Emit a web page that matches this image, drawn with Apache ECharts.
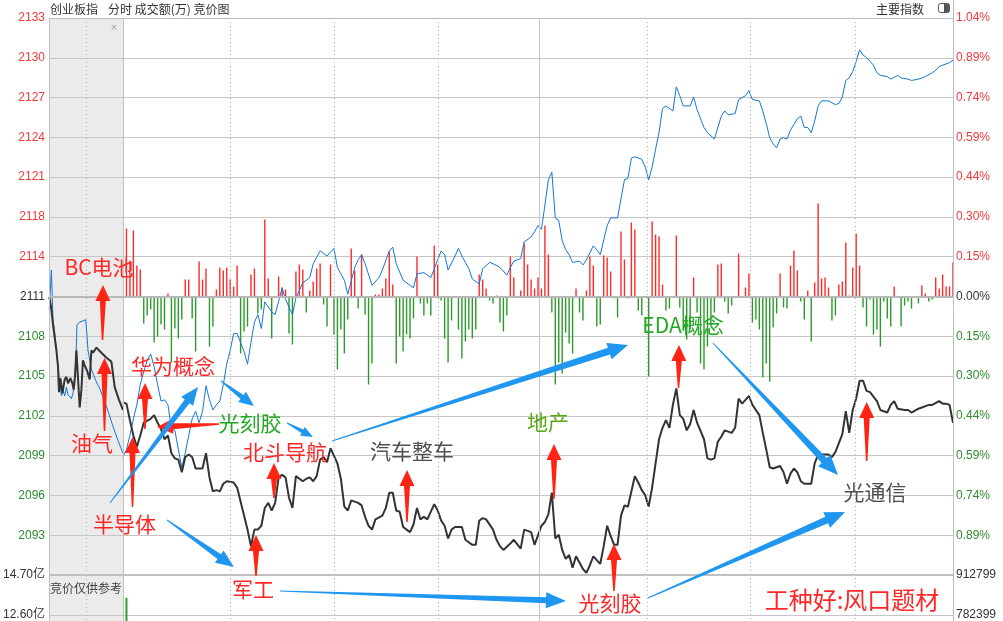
<!DOCTYPE html>
<html><head><meta charset="utf-8">
<script src="https://cdn.jsdelivr.net/npm/echarts/dist/echarts.min.js"></script>
<style>html,body{margin:0;padding:0;background:#fff}#c{width:1003px;height:621px}</style>
</head><body><div id="c"></div>
<script>
// ---------------- data ----------------
const preClose = 2111.32;        // 昨收
const step = 3.127;              // 价格刻度间隔 (≈0.148%)
// 竞价阶段 (9:15-9:25, 分钟)
const auctionBlue = [[0.03,2110.3],[0.32,2113.4],[0.54,2109.5],[0.77,2108.5],[1.22,2105.8],[1.45,2104.5],[1.68,2103.5],[1.89,2104.0],[2.12,2103.5],[2.35,2104.2],[2.57,2103.6],[3.03,2103.3],[3.24,2103.7],[3.61,2105.8],[3.78,2109.1],[4.15,2109.3],[4.59,2109.4],[4.96,2109.5],[5.14,2108.2],[5.27,2107.1],[5.73,2105.6],[6.41,2104.6],[6.85,2104.1],[7.76,2102.7],[8.65,2101.1],[9.32,2100.0],[10,2099.0]];
const auctionBlack = [[0.05,2111.3],[0.32,2110.3],[0.54,2109.1],[1.0,2107.1],[1.22,2105.8],[1.35,2103.8],[1.54,2104.9],[1.81,2103.7],[2.12,2104.8],[2.35,2105.0],[2.57,2104.5],[2.89,2104.9],[3.16,2104.5],[3.34,2104.0],[3.51,2105.0],[3.7,2107.1],[3.92,2107.1],[4.15,2102.6],[4.38,2104.0],[4.59,2106.3],[4.82,2105.9],[5.14,2105.5],[5.5,2104.8],[5.73,2107.1],[5.95,2106.9],[6.41,2107.3],[7.08,2106.9],[7.76,2106.5],[8.43,2106.2],[8.88,2104.2],[9.46,2103.2],[10,2102.4]];
// 连续交易 (分钟, 0 = 9:30, 240 = 15:00)
const blueLine = [[0,2098.7],[1,2099.3],[2,2100.4],[3,2101.7],[4,2102.8],[5,2104.4],[6,2105.4],[7,2106.3],[8,2106.8],[9,2105.8],[10,2104.4],[11,2103.1],[12,2103.2],[13,2102.8],[14,2100.9],[15,2100.8],[16,2099.3],[17,2097.9],[18,2099.0],[19,2100.4],[20,2101.7],[21,2102.3],[22,2101.4],[23,2102.3],[24,2104.3],[25,2103.2],[26,2102.4],[27,2102.8],[28,2103.1],[29,2104.4],[30,2106.0],[31,2107.1],[32,2108.4],[33,2108.4],[34,2107.7],[35,2107.0],[36,2106.0],[37,2107.7],[38,2109.3],[39,2109.9],[40,2108.8],[41,2110.9],[43,2110.1],[44,2109.9],[46,2112.0],[47,2111.1],[49,2109.9],[50,2111.2],[52,2112.4],[54,2112.8],[55,2113.9],[57,2114.9],[59,2114.5],[61,2115.1],[62,2113.6],[64,2112.6],[65,2111.5],[67,2113.6],[68,2114.2],[69,2114.6],[70,2113.9],[72,2112.2],[74,2112.8],[75,2113.4],[77,2114.9],[78,2115.2],[79,2113.9],[81,2112.6],[83,2112.2],[84,2112.0],[85,2113.1],[87,2113.2],[89,2112.8],[90,2113.5],[92,2114.9],[93,2114.6],[94,2113.4],[96,2114.5],[97,2115.1],[98,2114.5],[100,2113.5],[101,2112.7],[103,2112.3],[104,2113.5],[106,2114.0],[107,2113.9],[109,2113.6],[111,2113.0],[112,2113.6],[113,2114.1],[115,2114.3],[116,2115.6],[118,2116.0],[119,2116.4],[120,2116.9],[121,2116.6],[122,2118.5],[123,2120.5],[124,2121.1],[125,2117.5],[126,2117.3],[127,2115.7],[128,2115.0],[129,2114.6],[130,2114.0],[132,2114.1],[133,2113.8],[134,2114.2],[136,2115.3],[137,2115.0],[138,2114.6],[140,2116.9],[141,2117.5],[143,2117.5],[145,2120.5],[146,2120.6],[147,2122.2],[148,2122.3],[150,2122.1],[151,2121.5],[152,2120.5],[153,2121.5],[154,2122.9],[155,2124.2],[156,2126.1],[157,2126.3],[159,2125.9],[160,2127.8],[161,2127.1],[162,2126.3],[164,2126.3],[165,2127.0],[166,2126.0],[168,2124.6],[169,2124.2],[171,2123.7],[173,2125.5],[174,2125.9],[175,2125.6],[177,2125.7],[178,2126.8],[180,2127.1],[181,2127.5],[182,2126.8],[184,2126.7],[185,2125.9],[186,2124.9],[187,2123.8],[188,2123.3],[189,2123.0],[190,2123.7],[191,2123.8],[192,2123.7],[193,2124.4],[195,2125.3],[196,2125.5],[197,2124.6],[198,2124.6],[199,2124.2],[200,2125.1],[201,2126.3],[202,2126.7],[204,2126.7],[206,2126.4],[207,2126.5],[208,2127.0],[209,2128.3],[210,2128.5],[211,2129.0],[212,2129.8],[213,2130.7],[214,2130.3],[215,2130.1],[217,2129.5],[218,2128.9],[219,2128.7],[221,2128.6],[222,2128.4],[224,2128.7],[225,2128.5],[227,2128.4],[228,2128.3],[230,2128.4],[231,2128.5],[232,2128.6],[234,2128.9],[235,2129.1],[236,2129.4],[238,2129.6],[239,2129.7],[240,2129.9]];
const blackLine = [[0,2103.0],[1,2102.9],[2,2101.6],[3,2100.4],[4,2099.5],[5,2100.4],[6,2101.4],[8,2101.7],[9,2102.0],[10,2101.4],[11,2100.9],[12,2100.1],[13,2100.4],[14,2099.0],[15,2098.6],[16,2098.5],[17,2097.5],[18,2098.7],[19,2098.9],[20,2098.7],[21,2097.8],[22,2097.8],[23,2097.8],[24,2099.0],[25,2097.1],[26,2096.0],[27,2096.1],[28,2096.0],[29,2096.6],[30,2096.8],[32,2096.7],[33,2096.3],[34,2095.2],[35,2094.1],[36,2093.0],[37,2091.7],[38,2093.0],[39,2093.0],[40,2093.3],[41,2094.7],[42,2095.1],[43,2094.5],[44,2095.1],[45,2097.1],[46,2097.3],[47,2097.1],[48,2095.5],[49,2094.7],[50,2097.2],[52,2096.8],[53,2097.0],[54,2097.1],[55,2096.8],[56,2097.2],[57,2098.5],[58,2098.7],[59,2098.3],[60,2099.4],[62,2098.2],[63,2097.0],[64,2094.8],[65,2094.5],[66,2095.3],[67,2095.2],[68,2095.1],[69,2094.9],[70,2094.0],[71,2093.3],[72,2093.0],[73,2093.8],[75,2094.1],[76,2094.7],[77,2095.9],[78,2095.9],[79,2094.5],[80,2094.4],[81,2093.2],[82,2093.0],[83,2092.8],[84,2093.4],[85,2094.7],[86,2093.8],[87,2094.0],[88,2093.8],[90,2095.0],[91,2094.5],[92,2093.7],[93,2093.3],[94,2092.3],[95,2093.0],[96,2093.2],[98,2093.2],[99,2092.2],[101,2091.8],[102,2091.8],[103,2093.7],[104,2093.9],[105,2093.8],[107,2093.0],[108,2092.2],[109,2091.7],[110,2091.4],[112,2091.9],[113,2092.2],[115,2091.5],[116,2093.0],[118,2092.8],[119,2091.8],[121,2093.3],[122,2093.6],[123,2094.2],[124,2095.9],[125,2092.3],[126,2092.6],[127,2091.4],[128,2090.7],[129,2091.0],[130,2090.0],[131,2090.9],[133,2089.9],[134,2089.6],[135,2090.2],[136,2090.9],[138,2090.3],[139,2091.7],[140,2093.3],[141,2092.5],[142,2091.8],[143,2091.8],[144,2094.1],[145,2094.9],[146,2094.8],[147,2096.0],[148,2097.2],[149,2096.7],[150,2096.1],[151,2095.7],[152,2094.8],[153,2096.3],[154,2098.2],[155,2100.1],[156,2101.0],[157,2101.6],[158,2101.0],[159,2102.8],[160,2104.1],[161,2102.0],[162,2101.7],[163,2100.8],[164,2101.3],[165,2102.4],[166,2101.4],[168,2100.1],[169,2098.6],[170,2098.5],[171,2098.6],[172,2099.9],[173,2100.3],[174,2100.8],[176,2100.6],[177,2101.0],[178,2103.3],[179,2102.9],[180,2103.2],[181,2103.5],[182,2102.8],[184,2102.0],[185,2100.6],[186,2099.3],[187,2097.9],[188,2097.8],[190,2098.0],[191,2097.5],[192,2096.6],[193,2097.4],[194,2097.8],[195,2097.5],[196,2096.8],[197,2096.6],[199,2096.6],[200,2098.2],[201,2098.9],[204,2098.9],[205,2098.7],[206,2099.1],[207,2099.8],[208,2100.5],[209,2102.3],[210,2100.6],[211,2102.4],[212,2103.3],[213,2104.7],[214,2104.7],[215,2103.9],[216,2103.8],[218,2103.1],[219,2102.4],[221,2102.2],[222,2102.8],[223,2103.1],[224,2102.5],[226,2102.4],[227,2102.4],[228,2102.2],[230,2102.5],[231,2102.6],[233,2102.8],[234,2102.8],[236,2103.1],[237,2102.9],[238,2102.9],[239,2102.8],[240,2101.4]];
// 红绿柱 (强弱)
const strengthBars = [[1,68],[2,36],[3,66],[4,31],[5,27],[6,-27],[7,-19],[8,-13],[9,-46],[10,-40],[11,-28],[12,-33],[13,3],[14,-66],[15,-32],[16,-42],[17,-23],[18,17],[19,17],[20,-22],[21,-55],[22,35],[23,17],[24,28],[25,-50],[26,-30],[27,7],[28,29],[29,26],[30,29],[31,17],[32,10],[33,31],[34,-57],[35,-35],[36,-30],[37,22],[38,28],[39,-17],[40,-13],[41,77],[42,18],[43,-42],[45,20],[46,9],[47,7],[48,-37],[49,-48],[50,25],[51,32],[52,27],[53,-16],[54,6],[55,15],[56,28],[57,33],[58,-8],[59,-30],[60,32],[61,-38],[62,-73],[63,-33],[64,-57],[65,-23],[66,48],[67,26],[68,-12],[69,42],[70,-18],[71,-88],[72,-67],[73,2],[74,2],[75,8],[76,18],[77,45],[78,12],[79,-67],[80,-40],[81,-55],[82,-38],[83,-42],[84,-22],[85,40],[86,-7],[87,-19],[88,-7],[89,-19],[90,51],[91,32],[92,-4],[93,-42],[94,-66],[95,-24],[97,-33],[98,-62],[99,-45],[100,-33],[101,-42],[102,-33],[103,22],[104,17],[105,8],[106,-4],[107,-7],[108,1],[109,-26],[110,-35],[111,-19],[112,40],[113,19],[115,6],[116,53],[117,32],[118,17],[119,8],[120,19],[121,8],[122,71],[123,42],[124,-16],[125,-88],[126,-66],[127,-77],[128,-36],[129,-47],[130,-57],[131,8],[132,-16],[133,-24],[134,6],[135,40],[136,31],[137,-30],[138,-28],[139,41],[140,39],[141,25],[142,-2],[143,-21],[144,65],[145,37],[146,-2],[147,74],[148,67],[149,-14],[150,-19],[152,-80],[153,75],[154,62],[155,60],[156,12],[157,-14],[158,-12],[160,61],[161,-11],[162,-33],[163,-43],[164,-33],[165,19],[166,-16],[167,-67],[168,-73],[169,-50],[170,-30],[171,-16],[172,32],[173,33],[174,-5],[175,-17],[176,-9],[177,-1],[178,43],[180,9],[181,23],[182,-26],[183,-23],[184,-33],[185,-81],[186,-67],[187,-85],[188,-31],[189,-17],[190,23],[191,-11],[192,-12],[193,31],[194,46],[195,26],[196,-5],[197,-23],[198,6],[199,-45],[200,14],[201,93],[202,18],[203,19],[204,9],[205,-24],[206,-19],[207,12],[208,15],[209,54],[210,1],[211,29],[212,63],[213,31],[214,-11],[215,-30],[216,-3],[217,-38],[218,-33],[219,-50],[220,-5],[221,-22],[222,-30],[223,10],[225,-30],[226,-9],[227,-5],[228,-12],[230,-7],[231,11],[232,3],[233,-5],[234,-3],[235,19],[236,8],[237,22],[238,10],[239,10],[240,34]];
const strengthRange = 278.5;
// 成交额 (亿)
const volumeBars = [[1,13.5]];
const volMin = 10.5, volMax = 14.7, volStep = 2.1;
const volRightLabels = {'12.6':'782399','14.7':'912799'};
// 时间分隔线 (10:00 10:30 11:00 | 13:30 14:00 14:30 在本软件坐标上的位置)
const timeLines = [31, 61, 91.2, 151.6, 181.5, 211.7];
const middayLine = 120.5;
// 标注
const annoTexts = [
  ['BC电池',99,267,'r',21],['油气',92,443,'r',21],['华为概念',173,366,'r',21],['光刻胶',250,423,'g',21],
  ['北斗导航',285,452,'r',21],['汽车整车',412,451,'k',21],['地产',548,422,'y',21],['EDA概念',683,325,'g',21],
  ['光通信',875,492,'k',21],['半导体',124.5,524,'r',21],['军工',253,589,'r',21],['光刻胶',610,603,'r',21],
  ['工种好:风口题材',852,600,'r',24]
];
const redArrows = [ // tail -> tip
  [102.5,340,103,285],[104.5,431,104.5,358],[145,429,145,383],[132.5,507,132.5,437],
  [274,498,274,463],[407,522,407,470],[554,499,554,444],[256,576,256,535],
  [614,591,614,544],[678.5,388,679,345],[866.7,461,866.7,402],[219,424,157,427]
];
const blueArrows = [
  [110,503,198,387,18,15,6],[167,520,234,567,18,15,6],[221,381,254,406,15,13,5],[287,423,313,437,12,10,4],
  [332,441,628,345,20,17,7],[713,343,838,475,20,17,7],[280,591,566,601,20,16,6],[648,598,845,512,20,17,7]
];

// ---------------- chart ----------------
const RED='#f03a3a', GREEN='#2e8c2e', DARK='#333333';
const GRID='#c6c6c6';
const yMin = preClose - 7*step, yMax = preClose + 7*step;
const lblColor = v => (v - preClose > 0.01 ? RED : (v - preClose < -0.01 ? GREEN : DARK));
const FONT = "'Liberation Sans','Noto Sans CJK SC',sans-serif";
const CJK = "'Noto Sans CJK SC','Noto Sans',sans-serif";
const dotted = {color:'#b0b0b0', width:1, type:[1,3]};
const vMarks = {silent:true,symbol:['none','none'],label:{show:false},
  data:timeLines.map(t=>({xAxis:t,lineStyle:dotted})).concat([{xAxis:middayLine,lineStyle:{color:GRID,width:1,type:'solid'}}])};

const L=49, M=123, R=953, T=18, B=575;
const chart = echarts.init(document.getElementById('c'));
const gridBase = {show:false, containLabel:false, outerBoundsMode:'none'};
const option = {
  animation:false,
  backgroundColor:'#ffffff',
  grid:[
    {left:L, top:T, width:M-L, height:B-T, show:true, backgroundColor:'#ebebeb', borderWidth:0, containLabel:false, outerBoundsMode:'none'},
    Object.assign({left:M, top:T, width:R-M, height:B-T}, gridBase),
    {left:L, top:B, width:M-L, height:80, show:true, backgroundColor:'#ebebeb', borderWidth:0, containLabel:false, outerBoundsMode:'none'},
    Object.assign({left:M, top:B, width:R-M, height:80}, gridBase)
  ],
  xAxis:[
    {gridIndex:0,type:'value',min:0,max:10,interval:5,axisLine:{show:false},axisTick:{show:false},axisLabel:{show:false},splitLine:{show:true,lineStyle:dotted}},
    {gridIndex:1,type:'value',min:0,max:240,axisLine:{show:false},axisTick:{show:false},axisLabel:{show:false},splitLine:{show:false}},
    {gridIndex:2,type:'value',min:0,max:10,interval:5,axisLine:{show:false},axisTick:{show:false},axisLabel:{show:false},splitLine:{show:true,lineStyle:dotted}},
    {gridIndex:3,type:'value',min:0,max:240,axisLine:{show:false},axisTick:{show:false},axisLabel:{show:false},splitLine:{show:false}}
  ],
  yAxis:[
    {gridIndex:0,type:'value',min:yMin,max:yMax,interval:step,position:'left',axisLine:{show:false},axisTick:{show:false},
      splitLine:{show:true,lineStyle:{color:GRID,width:1}},
      axisLabel:{margin:4,fontSize:12,fontFamily:FONT,color:v=>lblColor(v),
        formatter:v=>Math.abs(v-yMin)<0.01?'':String(Math.round(v))}},
    {gridIndex:1,type:'value',min:yMin,max:yMax,interval:step,position:'right',axisLine:{show:false},axisTick:{show:false},
      splitLine:{show:true,lineStyle:{color:GRID,width:1}},
      axisLabel:{margin:3,fontSize:12,fontFamily:FONT,color:v=>lblColor(v),
        formatter:v=>Math.abs(v-yMin)<0.01?'':(Math.abs(v-preClose)/preClose*100).toFixed(2)+'%'}},
    {gridIndex:1,type:'value',min:-strengthRange,max:strengthRange,show:false,splitLine:{show:false}},
    {gridIndex:2,type:'value',min:volMin,max:volMax,interval:volStep,position:'left',axisLine:{show:false},axisTick:{show:false},
      splitLine:{show:true,lineStyle:{color:GRID,width:1}},
      axisLabel:{margin:4,fontSize:12,fontFamily:FONT,color:DARK,formatter:v=>v.toFixed(2)+'亿'}},
    {gridIndex:3,type:'value',min:volMin,max:volMax,interval:volStep,position:'right',axisLine:{show:false},axisTick:{show:false},
      splitLine:{show:true,lineStyle:{color:GRID,width:1}},
      axisLabel:{margin:3,fontSize:12,fontFamily:FONT,color:DARK,formatter:v=>volRightLabels[(Math.round(v*10)/10).toString()]||''}}
  ],
  series:[
    {type:'line',xAxisIndex:0,yAxisIndex:0,data:auctionBlue,showSymbol:false,lineStyle:{color:'#1477d6',width:1},z:3,
      markLine:{silent:true,symbol:['none','none'],label:{show:false},lineStyle:{color:'#b8b8b8',width:2,type:'solid'},data:[{yAxis:preClose}]}},
    {type:'line',xAxisIndex:0,yAxisIndex:0,data:auctionBlack,showSymbol:false,lineStyle:{color:'#333',width:2},z:4},
    {type:'bar',xAxisIndex:1,yAxisIndex:2,data:strengthBars,barWidth:1.4,z:2,
      itemStyle:{color:p=>p.value[1]>=0?'#ff2a2a':'#2a9a2a'},markLine:vMarks},
    {type:'line',xAxisIndex:1,yAxisIndex:1,data:blueLine,showSymbol:false,lineStyle:{color:'#1477d6',width:1},z:3,
      markLine:{silent:true,symbol:['none','none'],label:{show:false},lineStyle:{color:'#b8b8b8',width:2,type:'solid'},data:[{yAxis:preClose}]}},
    {type:'line',xAxisIndex:1,yAxisIndex:1,data:blackLine,showSymbol:false,lineStyle:{color:'#333',width:2},z:4},
    {type:'bar',xAxisIndex:3,yAxisIndex:4,data:volumeBars,barWidth:2,itemStyle:{color:'#2f9a2f'},markLine:vMarks}
  ]
};
chart.setOption(option);

// ---------------- annotations & frame ----------------
function arrowPts(x1,y1,x2,y2,hl,hw,sw,tw){
  const dx=x2-x1, dy=y2-y1, Ln=Math.hypot(dx,dy), ux=dx/Ln, uy=dy/Ln, nx=-uy, ny=ux;
  const bx=x2-ux*hl, by=y2-uy*hl;
  return [[x2,y2],[bx+nx*hw/2,by+ny*hw/2],[bx+nx*sw/2,by+ny*sw/2],[x1+nx*tw/2,y1+ny*tw/2],
          [x1-nx*tw/2,y1-ny*tw/2],[bx-nx*sw/2,by-ny*sw/2],[bx-nx*hw/2,by-ny*hw/2]];
}
const colMap = {r:'#ff2626', g:'#22a822', y:'#5aa618', k:'#505050'};
const g = [];
const vline=(x,y1,y2,c,w)=>({type:'line',shape:{x1:x,y1:y1,x2:x,y2:y2},style:{stroke:c,lineWidth:w||1},z:50,silent:true});
const hline=(y,x1,x2,c,w)=>({type:'line',shape:{x1:x1,y1:y,x2:x2,y2:y},style:{stroke:c,lineWidth:w||1},z:50,silent:true});
g.push(vline(L+0.5,T,621,'#c0c0c0'));
g.push(vline(M+0.5,T,621,'#c0c0c0'));
g.push(vline(R+0.5,0,621,'#bdbdbd'));
g.push(hline(T+0.5,L,R,'#bdbdbd'));
g.push(hline(B,L,R,'#c0c0c0',2));
// header
g.push({type:'text',x:50,y:9,style:{text:'创业板指',font:'12px '+CJK,fill:'#333',textVerticalAlign:'middle',verticalAlign:'middle'},z:60});
g.push({type:'text',x:108,y:9,style:{text:'分时 成交额(万) 竞价图',font:'12px '+CJK,fill:'#333',textVerticalAlign:'middle',verticalAlign:'middle'},z:60});
g.push({type:'text',x:876,y:9,style:{text:'主要指数',font:'12px '+CJK,fill:'#333',textVerticalAlign:'middle',verticalAlign:'middle'},z:60});
g.push({type:'rect',shape:{x:938.5,y:3.5,width:11,height:9,r:2},style:{fill:'#fff',stroke:'#555',lineWidth:1},z:60});
g.push({type:'rect',shape:{x:944,y:4,width:5,height:8},style:{fill:'#555'},z:61});
g.push({type:'text',x:114,y:28,style:{text:'×',font:'11px '+FONT,fill:'#a0a0a0',textAlign:'center',align:'center',textVerticalAlign:'middle',verticalAlign:'middle'},z:60});
g.push({type:'text',x:50,y:588,style:{text:'竞价仅供参考',font:'12px '+CJK,fill:'#444',textVerticalAlign:'middle',verticalAlign:'middle'},z:60});
// arrows
redArrows.forEach(a=>g.push({type:'polygon',shape:{points:arrowPts(a[0],a[1],a[2],a[3],16,15,6,1.5)},style:{fill:'#ff2414'},z:70,silent:true}));
blueArrows.forEach(a=>g.push({type:'polygon',shape:{points:arrowPts(a[0],a[1],a[2],a[3],a[4],a[5],a[6],1)},style:{fill:'#1f97f0'},z:70,silent:true}));
// texts
annoTexts.forEach(t=>g.push({type:'text',x:t[1],y:t[2],z:80,silent:true,
  style:{text:t[0],font:t[4]+'px '+CJK,fill:colMap[t[3]],textAlign:'center',align:'center',textVerticalAlign:'middle',verticalAlign:'middle'}}));
chart.setOption({graphic:{elements:g}});
</script></body></html>
